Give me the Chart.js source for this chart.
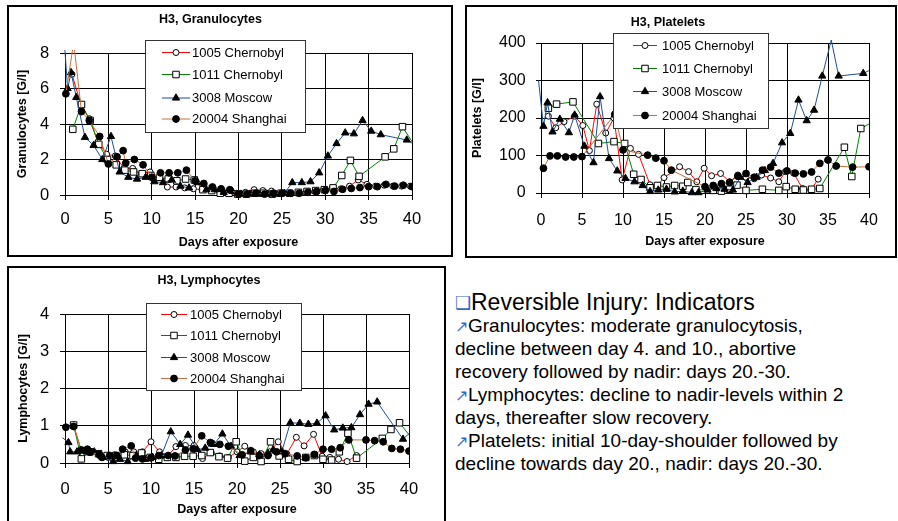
<!DOCTYPE html>
<html>
<head>
<meta charset="utf-8">
<script src="https://cdn.jsdelivr.net/npm/chart.js@4.4.1/dist/chart.umd.min.js"></script>
<style>
  body { margin: 0; width: 898px; height: 521px; background: #fff; position: relative; overflow: hidden;
         font-family: Arial, "Liberation Sans", sans-serif; }
  .panel { position: absolute; border: 2px solid #000; background: #fff; }
  .panel canvas { display: block; }
  #p1 { left: 7px; top: 5px; }
  #p2 { left: 465px; top: 5px; }
  #p3 { left: 7px; top: 266px; }
  .note { position: absolute; left: 455px; white-space: nowrap; font-size: 19px; color: #000; }
  .note.head { font-size: 23px; }
  .bul { color: #3366cc; }
  .head .bul { font-size: 18px; position: relative; top: -1px; }
  .arr { color: #3366cc; font-size: 16px; }
</style>
</head>
<body>
<div class="panel" id="p1"><canvas id="gran" width="442" height="248"></canvas></div>
<div class="panel" id="p2"><canvas id="plt" width="428" height="249"></canvas></div>
<div class="panel" id="p3"><canvas id="lym" width="435" height="256"></canvas></div>

<div class="note head" style="top:289px"><span class="bul">&#x2751;</span>Reversible Injury: Indicators</div>
<div class="note" style="top:315px"><span class="bul arr">&#x2197;</span>Granulocytes: moderate granulocytosis,</div>
<div class="note" style="top:338px">decline between day 4. and 10., abortive</div>
<div class="note" style="top:361px">recovery followed by nadir: days 20.-30.</div>
<div class="note" style="top:384px"><span class="bul arr">&#x2197;</span>Lymphocytes: decline to nadir-levels within 2</div>
<div class="note" style="top:407px">days, thereafter slow recovery.</div>
<div class="note" style="top:430px"><span class="bul arr">&#x2197;</span>Platelets: initial 10-day-shoulder followed by</div>
<div class="note" style="top:453px">decline towards day 20., nadir: days 20.-30.</div>

<script>
// [day, value] pairs per patient
const seriesNames = ["1005 Chernobyl", "1011 Chernobyl", "3008 Moscow", "20004 Shanghai"];

const gran1005 = [[0.8,6.8],[1.9,5.0],[2.8,4.3],[3.8,3.0],[4.8,2.3],[5.8,2.2],[6.8,1.5],[7.8,1.5],[8.8,1.2],[9.8,1.3],
  [10.8,1.0],[11.8,0.45],[12.8,0.45],[13.8,0.4],[14.8,0.35],[15.8,0.3],[16.8,0.3],[17.8,0.2],[18.8,0.15],[19.8,0.1],
  [20.8,0.15],[21.8,0.3],[22.8,0.25],[23.8,0.22],[24.8,0.1],[25.8,0.1],[26.8,0.1],[27.8,0.15],[28.8,0.2],[29.8,0.3],
  [30.8,0.4],[31.8,0.35],[32.8,0.5],[33.8,0.85],[34.8,0.6],[35.8,0.5],[36.8,0.55],[37.8,0.5],[38.8,0.5],[39.8,0.5]];
const gran1011 = [[0.9,3.7],[1.9,5.1],[2.9,4.2],[3.9,2.85],[4.9,2.0],[5.9,1.7],[6.9,1.4],[7.9,1.3],[8.9,1.2],[9.9,1.1],
  [10.9,1.0],[11.9,0.9],[12.9,0.8],[13.9,0.9],[14.9,0.85],[15.9,0.3],[16.9,0.25],[17.9,0.1],[18.9,0.1],[19.9,0.05],
  [20.9,0.05],[21.9,0.1],[22.9,0.1],[23.9,0.05],[24.9,0.1],[25.9,0.1],[26.9,0.15],[27.9,0.2],[28.9,0.25],[29.9,0.3],
  [30.9,0.4],[31.9,1.1],[32.9,1.95],[33.9,1.05],[36.9,2.15],[37.9,2.6],[38.9,3.85],[40.4,2.7]];
const gran3008 = [[-0.2,9.5],[0.3,6.0],[0.7,6.9],[1.3,5.5],[2.3,3.25],[3.3,2.8],[4.3,2.0],[5.3,3.3],[6.3,1.3],[7.3,1.0],
  [8.3,0.9],[9.3,1.0],[10.3,0.75],[11.3,0.7],[12.3,0.85],[13.3,0.5],[14.3,0.4],[15.3,0.7],[16.3,0.3],[17.3,0.3],
  [18.3,0.15],[19.3,0.2],[20.3,0.05],[21.3,0.05],[22.3,0.05],[23.3,0.05],[24.3,0.05],[25.3,0.1],[26.2,0.7],[27.3,0.7],
  [28.3,0.75],[29.3,1.25],[30.3,2.2],[31.3,2.9],[32.3,3.5],[33.3,3.45],[34.3,4.2],[35.3,3.6],[36.4,3.4],[39.4,3.1],[40.4,2.8]];
const gran20004 = [[0.1,5.7],[1.0,8.6],[1.9,4.7],[2.8,4.2],[4.0,3.3],[5.0,1.75],[6.0,2.15],[6.7,2.5],[7.0,1.8],[8.0,2.0],
  [9.0,1.7],[10.0,1.0],[11.0,1.25],[12.0,1.25],[13.0,1.25],[14.0,1.4],[15.0,0.8],[16.0,0.65],[17.0,0.45],[18.0,0.35],
  [19.0,0.3],[20.0,0.05],[21.0,0.05],[22.0,0.1],[23.0,0.05],[24.0,0.1],[25.0,0.1],[26.0,0.1],[27.0,0.1],[28.0,0.15],
  [29.0,0.2],[30.0,0.25],[31.0,0.2],[32.0,0.32],[33.0,0.37],[34.0,0.42],[35.0,0.47],[36.0,0.47],[37.0,0.6],[38.0,0.5],
  [39.0,0.55],[40.0,0.47]];

const plt1005 = [[0.9,205],[1.8,174],[2.8,190],[4.1,205],[5.1,180],[5.9,113],[6.8,237],[7.9,160],[8.9,200],[9.9,35],
  [10.9,119],[11.9,103],[13.3,22],[14.2,19],[15.0,41],[16.9,70],[18.0,57],[19.0,30],[19.9,66],[20.8,46],
  [21.9,52],[23.0,30],[24.0,48],[25.0,42],[26.0,38],[26.9,48],[28.0,40],[29.0,30],[29.8,57],[30.8,53],
  [31.9,12],[32.9,8],[33.8,37]];
const plt1011 = [[0.9,226],[1.9,237],[3.9,243],[7.0,132],[8.9,137],[10.2,132],[11.3,50],[12.2,36],[13.3,14],[14.2,20],
  [15.3,16],[16.3,20],[17.3,18],[17.9,28],[18.9,9],[21.0,7],[22.0,5],[23.0,10],[23.9,21],[25.0,7],
  [27.0,10],[29.0,7],[29.9,17],[31.0,10],[32.0,8],[33.0,10],[34.0,12],[37.0,122],[37.9,44],[39.0,172],[40.5,190]];
const plt3008 = [[-0.3,300],[0.3,178],[0.8,241],[1.4,163],[2.3,197],[3.4,161],[4.1,208],[5.3,125],[6.4,81],[7.2,257],
  [8.3,92],[9.3,59],[10.3,39],[11.4,30],[12.4,20],[13.3,4],[14.3,8],[15.3,10],[16.3,3],[17.3,5],
  [18.4,1],[19.2,1],[20.3,8],[21.4,12],[22.4,10],[23.4,8],[24.3,42],[25.2,28],[26.3,42],[27.3,60],
  [28.3,79],[29.4,134],[30.4,159],[31.4,248],[32.4,193],[33.3,221],[34.3,312],[35.4,408],[36.3,312],[39.3,319],[40.5,332]];
const plt20004 = [[0.3,66],[1.1,99],[2.0,99],[3.0,96],[4.0,96],[5.0,97],[9.0,210],[10.0,115],[13.0,101],[14.0,93],
  [15.0,86],[15.9,61],[20.0,17],[21.0,20],[22.0,25],[23.0,28],[24.0,45],[25.0,52],[26.0,42],[27.0,61],
  [28.0,69],[29.0,53],[30.0,59],[31.0,53],[32.0,51],[33.0,56],[34.0,79],[35.0,88],[36.0,72],[38.0,69],[40.0,70]];

const lym1005 = [[1.0,1.02],[2.0,0.25],[3.0,0.3],[4.0,0.2],[5.0,0.15],[5.8,0.22],[7.0,0.3],[8.0,0.3],[9.0,0.3],[10.0,0.57],
  [11.0,0.3],[12.0,0.2],[12.9,0.44],[14.0,0.47],[15.0,0.47],[16.0,0.12],[17.0,0.28],[18.0,0.19],[19.0,0.15],[20.0,0.3],
  [20.9,0.45],[21.9,0.3],[22.8,0.25],[23.8,0.3],[24.8,0.57],[25.8,0.24],[26.9,0.69],[27.8,0.46],[28.9,0.77],[29.9,0.18],
  [30.8,0.15],[31.8,0.1],[32.8,0.04],[33.9,0.2]];
const lym1011 = [[1.0,1.02],[1.9,0.11],[2.9,0.3],[3.9,0.25],[4.9,0.2],[5.9,0.2],[6.9,0.22],[7.9,0.2],[8.9,0.27],[9.9,0.15],
  [10.9,0.1],[11.9,0.15],[12.9,0.15],[13.9,0.18],[14.9,0.18],[15.9,0.2],[16.9,0.28],[17.9,0.17],[18.9,0.13],[19.9,0.57],
  [20.9,0.05],[21.9,0.15],[22.8,0.04],[23.9,0.57],[24.9,0.19],[26.0,0.1],[27.0,0.04],[28.0,0.15],[29.0,0.2],[30.0,0.1],
  [31.0,0.08],[31.9,0.3],[32.9,0.8],[33.9,0.13],[36.9,0.66],[37.9,0.9],[38.9,1.08],[40.4,0.64]];
const lym3008 = [[-0.3,0.68],[0.4,0.55],[0.6,0.3],[1.4,0.3],[2.5,0.3],[3.4,0.3],[4.4,0.15],[5.6,0.04],[6.4,0.1],[7.3,0.04],
  [8.3,0.2],[9.3,0.1],[10.2,0.15],[11.2,0.2],[12.3,0.84],[13.4,0.5],[14.3,0.75],[15.4,0.36],[16.3,0.4],[17.3,0.5],
  [18.3,0.78],[19.3,0.45],[20.3,0.2],[21.6,0.3],[22.6,0.22],[23.6,0.25],[24.2,0.35],[25.2,0.3],[26.2,1.08],[27.3,1.07],
  [28.3,1.04],[29.3,1.07],[30.3,1.27],[31.3,0.89],[32.3,0.94],[33.3,0.95],[34.3,1.3],[35.3,1.58],[36.3,1.64],[39.3,0.64],[40.4,0.87]];
const lym20004 = [[0.1,0.96],[1.0,0.98],[1.9,0.35],[2.6,0.37],[2.9,0.29],[4.0,0.23],[4.3,0.15],[5.2,0.2],[6.0,0.2],[6.7,0.37],
  [7.7,0.46],[8.2,0.13],[9.0,0.11],[10.0,0.14],[10.9,0.2],[12.0,0.2],[12.8,0.19],[14.0,0.35],[14.9,0.38],[15.9,0.73],
  [16.9,0.55],[18.0,0.5],[19.0,0.45],[20.6,0.22],[21.6,0.33],[22.6,0.2],[23.6,0.2],[24.6,0.3],[25.6,0.25],[27.0,0.19],
  [28.0,0.14],[29.0,0.23],[30.0,0.37],[31.0,0.37],[32.0,0.41],[33.0,0.62],[35.0,0.62],[36.0,0.6],[37.0,0.57],[38.0,0.39],
  [39.0,0.37],[40.0,0.32]];

Chart.defaults.font.family = 'Arial, "Liberation Sans", sans-serif';
Chart.defaults.color = "#000";

// line colour, marker shape, marker size, marker fill for each patient
const styles = [
  { line: "#ff0000", shape: "circle", size: 3, fill: "#ffffff" },
  { line: "#008000", shape: "rect", size: 4.6, fill: "#ffffff" },
  { line: "#1f4e8c", shape: "triangle", size: 4.2, fill: "#000000" },
  { line: "#c0703a", shape: "circle", size: 3.4, fill: "#000000" },
];

// legend box drawn inside the plot, over the lines
const legendBox = {
  id: "legendBox",
  afterDraw(chart, args, opts) {
    const ctx = chart.ctx;
    ctx.save();
    ctx.fillStyle = "#fff";
    ctx.fillRect(opts.x, opts.y, opts.w, opts.h);
    ctx.strokeStyle = "#333";
    ctx.lineWidth = 1;
    ctx.strokeRect(opts.x + 0.5, opts.y + 0.5, opts.w, opts.h);
    ctx.font = opts.font;
    ctx.textBaseline = "middle";
    chart.data.datasets.forEach((ds, i) => {
      const y = opts.rows[i];
      ctx.strokeStyle = ds.borderColor;
      ctx.beginPath();
      ctx.moveTo(opts.x0, y + 0.5);
      ctx.lineTo(opts.x1, y + 0.5);
      ctx.stroke();
      ctx.fillStyle = styles[i].fill;
      ctx.strokeStyle = "#000";
      Chart.helpers.drawPoint(ctx, { pointStyle: styles[i].shape, radius: styles[i].size, borderWidth: 1, rotation: 0 },
        (opts.x0 + opts.x1) / 2, y + 0.5);
      ctx.fillStyle = "#000";
      ctx.fillText(ds.label, opts.tx, y + 1);
    });
    ctx.restore();
  },
};

// markers are left off for readings outside the axis range
const make_datasets = (list, yMax) => list.map((pairs, i) => ({
  label: seriesNames[i],
  data: pairs.map(([x, y]) => ({ x, y })),
  borderColor: styles[i].line,
  borderWidth: 1,
  pointStyle: styles[i].shape,
  pointRadius: (c) => (c.raw && (c.raw.x < 0 || c.raw.y > yMax || c.raw.x > 40) ? 0 : styles[i].size),
  pointBackgroundColor: styles[i].fill,
  pointBorderColor: "#000",
  pointBorderWidth: 1,
  tension: 0,
  order: 4 - i,
  clip: { left: 3, top: 3, right: 0, bottom: 10 },
}));

const draw_chart = (id, spec) => new Chart(document.getElementById(id), {
  type: "line",
  data: { datasets: make_datasets(spec.series, spec.yMax) },
  plugins: [legendBox],
  options: {
    animation: false,
    responsive: false,
    events: [],
    layout: { padding: { left: 0, right: spec.padRight, top: 0, bottom: 0 } },
    plugins: {
      legend: { display: false },
      tooltip: { enabled: false },
      title: {
        display: true, text: spec.title, color: "#000",
        font: { size: 12.5, weight: "bold" },
        padding: { top: spec.titleTop, bottom: spec.titleBottom },
      },
      legendBox: spec.legend,
    },
    scales: {
      x: {
        type: "linear", min: 0, max: 40,
        afterFit: (s) => { s.height = spec.xHeight; },
        ticks: { stepSize: 5, font: { size: spec.tickSize }, padding: spec.xTickPad, maxRotation: 0, autoSkip: false },
        grid: { color: "#000", tickLength: 5 },
        border: { color: "#000" },
        title: {
          display: true, text: "Days after exposure",
          font: { size: 12.5, weight: "bold" },
          padding: { top: 0, bottom: spec.xTitlePad },
        },
      },
      y: {
        min: 0, max: spec.yMax,
        afterFit: (s) => { s.width = spec.yWidth; },
        ticks: { stepSize: spec.yStep, font: { size: spec.tickSize }, padding: spec.yTickPad },
        grid: { color: "#000", tickLength: 5 },
        border: { color: "#000" },
        title: {
          display: true, text: spec.yTitle,
          font: { size: 12.5, weight: "bold" },
          padding: { top: spec.yTitlePad, bottom: 0 },
        },
      },
    },
  },
});

draw_chart("gran", {
  series: [gran1005, gran1011, gran3008, gran20004],
  title: "H3, Granulocytes", yTitle: "Granulocytes [G/l]",
  yMax: 8, yStep: 2, tickSize: 16.5,
  padRight: 39, yWidth: 56, xHeight: 60,
  titleTop: 5, titleBottom: 26,
  xTickPad: 10, yTickPad: 10.7, xTitlePad: 4.5, yTitlePad: 6.5,
  legend: { x: 136, y: 33, w: 160, h: 92, rows: [45, 67, 90.5, 111.5], x0: 153, x1: 181, tx: 183, font: "13px Arial" },
});

draw_chart("plt", {
  series: [plt1005, plt1011, plt3008, plt20004],
  title: "H3, Platelets", yTitle: "Platelets [G/l]",
  yMax: 400, yStep: 100, tickSize: 16,
  padRight: 26, yWidth: 74, xHeight: 63,
  titleTop: 8.2, titleBottom: 12.8,
  xTickPad: 13.4, yTickPad: 10.3, xTitlePad: 6.8, yTitlePad: 2.8,
  legend: { x: 146, y: 26, w: 155, h: 95, rows: [38, 61, 84, 108], x0: 166, x1: 190, tx: 195, font: "13px Arial" },
});

draw_chart("lym", {
  series: [lym1005, lym1011, lym3008, lym20004],
  title: "H3, Lymphocytes", yTitle: "Lymphocytes [G/l]",
  yMax: 4, yStep: 1, tickSize: 16.5,
  padRight: 35, yWidth: 56, xHeight: 61,
  titleTop: 5.5, titleBottom: 25.5,
  xTickPad: 12, yTickPad: 10.7, xTitlePad: 6.5, yTitlePad: 6.8,
  legend: { x: 137, y: 35, w: 155, h: 87, rows: [46, 67, 89, 110], x0: 152, x1: 178, tx: 181, font: "13px Arial" },
});
</script>
</body>
</html>
